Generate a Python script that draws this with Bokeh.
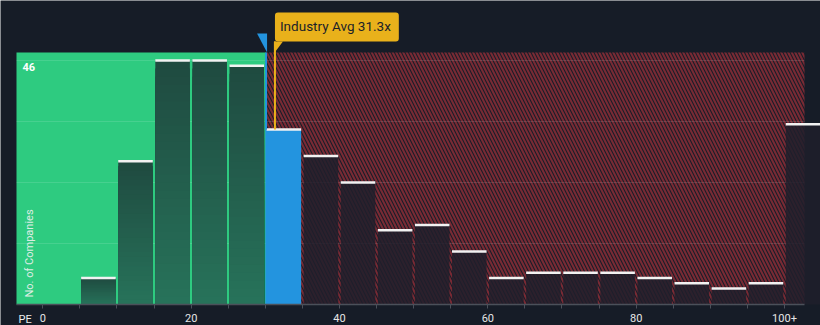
import numpy as np
from bokeh.plotting import figure
from bokeh.models import Range1d, FixedTicker, Label, PolyAnnotation
from bokeh.embed import file_html
from bokeh.resources import INLINE

# ---- data ----
bin_left = [0, 5, 10, 15, 20, 25, 30, 35, 40, 45, 50, 55, 60, 65, 70, 75, 80, 85, 90, 95, 100]
counts = [0, 5, 27, 46, 46, 45, 33, 28, 23, 14, 15, 10, 5, 6, 6, 6, 5, 4, 3, 4, 34]
bin_width = 5
company_pe = 30.1
industry_avg = 31.3
x_ticks = [0, 5, 10, 15, 20, 25, 30, 35, 40, 45, 50, 55, 60, 65, 70, 75, 80, 85, 90, 95, 100]
x_tick_labels = {0: "0", 20: "20", 40: "40", 60: "60", 80: "80", 100: "100+"}
y_top_label = 46
y_grid = [11.5, 23, 34.5, 46]

# ---- style / layout ----
BG = "#161c27"
GREEN = "#2ecb80"
BLUE = "#2394df"
ORANGE = "#e9b11b"
HATCH = "#7a2a34"
FONT = "Roboto"

W, H = 820, 325
sx = 7.417          # px per PE unit
sy = 5.305          # px per company
x0_px, y0_px = 42.3, 304.0
x_range = Range1d(-x0_px / sx, (W - x0_px) / sx)
y_range = Range1d((y0_px - H) / sy, y0_px / sy)
area_l = (16 - x0_px) / sx
area_r = (804 - x0_px) / sx
area_t = (y0_px - 52) / sy

p = figure(width=W, height=H, x_range=x_range, y_range=y_range,
           y_axis_location=None, toolbar_location=None, output_backend="svg",
           min_border=0, min_border_left=0, min_border_right=0, min_border_top=0, min_border_bottom=0,
           background_fill_color=BG, border_fill_color=BG, outline_line_color=None)
p.xgrid.visible = False
p.ygrid.visible = False

# background regions
p.quad(left=[area_l], right=[company_pe], bottom=[0], top=[area_t],
       fill_color=GREEN, line_color=None)
p.quad(left=[company_pe], right=[area_r], bottom=[0], top=[area_t],
       fill_color="#1a1d28", line_color=None, hatch_pattern="\\", hatch_color=HATCH,
       hatch_weight=2, hatch_scale=7)

# grid lines
p.segment(x0=[area_l] * len(y_grid), x1=[area_r] * len(y_grid), y0=y_grid, y1=y_grid,
          line_color="white", line_alpha=0.12, line_width=1)

inset = 0.17
top_c = np.array([0x1f, 0x4a, 0x40], dtype=float)
bot_c = np.array([0x27, 0x73, 0x5a], dtype=float)
N = 30

g_l, g_r, g_t, g_col = [], [], [], []
d_l, d_r, d_t = [], [], []
b_l, b_r, b_t = [], [], []
w_x0, w_x1, w_y = [], [], []
for l, c in zip(bin_left, counts):
    r = l + bin_width
    if c <= 0:
        continue
    if r <= company_pe:
        for k in range(N - 1, -1, -1):
            t = (k + 0.5) / N
            col = bot_c * (1 - t) + top_c * t
            g_l.append(l + inset); g_r.append(r - inset)
            g_t.append(c * (k + 1) / N)
            g_col.append("#%02x%02x%02x" % tuple(int(round(v)) for v in col))
    elif l <= company_pe < r:
        b_l.append(l); b_r.append(r - inset); b_t.append(c)
    else:
        d_l.append(l + inset); d_r.append(r - inset); d_t.append(c)
    w_x0.append(l + inset); w_x1.append(r - inset); w_y.append(c)

p.quad(left=g_l, right=g_r, bottom=0, top=g_t, fill_color=g_col, line_color=None)
p.quad(left=d_l, right=d_r, bottom=0, top=d_t, fill_color="#1f1f2b", fill_alpha=0.85, line_color=None)
p.quad(left=b_l, right=b_r, bottom=0, top=b_t, fill_color=BLUE, line_color=None)
p.segment(x0=w_x0, x1=w_x1, y0=w_y, y1=w_y, line_color="#f2f2f2", line_width=2.5)

# marker lines
def count_at(v):
    for l, c in zip(bin_left, counts):
        if l <= v < l + bin_width:
            return c
    return 0

p.segment(x0=[company_pe], x1=[company_pe], y0=[count_at(company_pe)], y1=[area_t],
          line_color=BLUE, line_width=2)
p.segment(x0=[industry_avg], x1=[industry_avg], y0=[count_at(industry_avg)], y1=[area_t + 11 / sy],
          line_color=ORANGE, line_width=2)

# flag shapes above the plot area
p.add_layout(PolyAnnotation(
    xs=[company_pe - 9 / sx, company_pe + 1 / sx, company_pe + 1 / sx],
    ys=[area_t + 19 / sy, area_t + 19 / sy, area_t],
    fill_color=BLUE, fill_alpha=1, line_color=None))
p.add_layout(PolyAnnotation(
    xs=[industry_avg - 1 / sx, industry_avg + 8 / sx, industry_avg - 1 / sx],
    ys=[area_t + 11 / sy, area_t + 11 / sy, area_t - 1 / sy],
    fill_color=ORANGE, fill_alpha=1, line_color=None))

p.add_layout(Label(x=industry_avg, y=area_t, x_offset=0, y_offset=11,
                   text="Industry Avg 31.3x", text_font=FONT, text_font_size="13.5px",
                   text_color="#1b1f29", text_align="left", text_baseline="bottom",
                   background_fill_color=ORANGE, background_fill_alpha=1,
                   padding=(5, 8, 5, 8), border_radius=3))

# y labels
p.add_layout(Label(x=area_l, y=y_top_label, x_offset=6, y_offset=-3, text=str(y_top_label),
                   text_font=FONT, text_font_size="11px", text_font_style="bold",
                   text_color="#ffffff", text_baseline="top", text_align="left"))
p.add_layout(Label(x=area_l, y=0, x_offset=13, y_offset=7, text="No. of Companies",
                   angle=np.pi / 2, text_font=FONT, text_font_size="11px",
                   text_color="#f2f2f2", text_alpha=0.9, text_baseline="middle", text_align="left"))
p.add_layout(Label(x=area_l, y=0, x_offset=2, y_offset=-15, text="PE",
                   text_font=FONT, text_font_size="11px", text_color="#eeeeee",
                   text_baseline="middle", text_align="left"))

# x axis, drawn at PE count 0
ax = p.xaxis[0]
ax.fixed_location = 0
ax.bounds = (area_l, area_r)
ax.ticker = FixedTicker(ticks=x_ticks, minor_ticks=[])
ax.major_label_overrides = {t: x_tick_labels.get(t, "") for t in x_ticks}
ax.axis_line_color = "#4b505a"
ax.axis_line_width = 1.5
ax.major_tick_line_color = "#4b505a"
ax.major_tick_out = 4
ax.major_tick_in = 0
ax.minor_tick_out = 0
ax.major_label_standoff = 5
ax.major_label_text_color = "#e6e6e6"
ax.major_label_text_font = FONT
ax.major_label_text_font_size = "11px"

open("out.html", "w").write(file_html(p, INLINE))
